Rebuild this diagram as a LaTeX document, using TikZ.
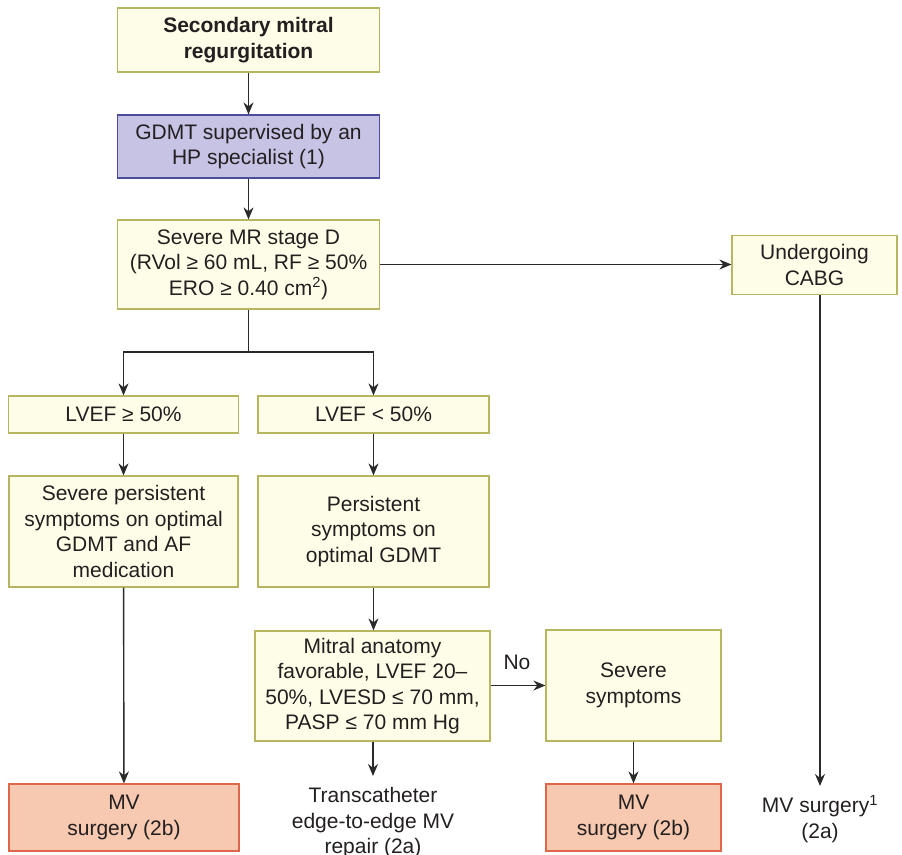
\documentclass[tikz,border=0pt]{standalone}
\usepackage{fontspec}
\setmainfont{Liberation Sans}
\usetikzlibrary{arrows.meta}
\definecolor{ylfill}{HTML}{FEFEE8}
\definecolor{yldraw}{HTML}{B8B560}
\definecolor{lvfill}{HTML}{C6C3E5}
\definecolor{lvdraw}{HTML}{4B4D9A}
\definecolor{sfill}{HTML}{F7C9B0}
\definecolor{sdraw}{HTML}{E0664A}
\definecolor{txt}{HTML}{231F20}
\definecolor{ln}{HTML}{2A2A2A}
\tikzset{
  base/.style={draw, line width=1.2pt, align=center, inner sep=0pt, text=txt,
    font=\fontsize{21}{25.5}\selectfont},
  ybox/.style={base, fill=ylfill, draw=yldraw},
  lbox/.style={base, fill=lvfill, draw=lvdraw},
  sbox/.style={base, fill=sfill, draw=sdraw},
  plain/.style={align=center, inner sep=0pt, text=txt, font=\fontsize{21}{25.5}\selectfont},
  arr/.style={draw=ln, line width=1.4pt, -{Stealth[length=12pt,width=10pt]}},
  ln/.style={draw=ln, line width=1.4pt}
}
\begin{document}
\begin{tikzpicture}[x=1pt,y=-1pt]
\useasboundingbox (0,0) rectangle (902,854);
\node[ybox, minimum width=262pt, minimum height=64pt, font=\fontsize{21}{25.5}\selectfont\bfseries] (top) at (248.5,40) {Secondary mitral\\regurgitation};
\node[lbox, minimum width=262pt, minimum height=63pt] (gdmt) at (248.5,146.5) {GDMT supervised by an\\HP specialist (1)};
\node[ybox, minimum width=262pt, minimum height=89pt] (smr) at (248.5,264.5) {Severe MR stage D\\(RVol ≥ 60 mL, RF ≥ 50\%\\ERO ≥ 0.40 cm\textsuperscript{2})};
\node[ybox, minimum width=165pt, minimum height=59pt] (cabg) at (814.5,265) {Undergoing\\CABG};
\node[ybox, minimum width=230pt, minimum height=37pt] (lh) at (123.5,414.5) {LVEF ≥ 50\%};
\node[ybox, minimum width=231pt, minimum height=37pt] (ll) at (373.5,414.5) {LVEF < 50\%};
\node[ybox, minimum width=229pt, minimum height=111pt] (sps) at (123.5,531.5) {Severe persistent\\symptoms on optimal\\GDMT and AF\\medication};
\node[ybox, minimum width=231pt, minimum height=111pt] (ps) at (373.5,531.5) {Persistent\\symptoms on\\optimal GDMT};
\node[ybox, minimum width=235pt, minimum height=110pt] (mit) at (372.5,686) {Mitral anatomy\\favorable, LVEF 20–\\50\%, LVESD ≤ 70 mm,\\PASP ≤ 70 mm Hg};
\node[ybox, minimum width=175pt, minimum height=111pt] (sev) at (633.5,685.5) {Severe\\symptoms};
\node[sbox, minimum width=230pt, minimum height=67pt] (mvl) at (124,817.5) {MV\\surgery (2b)};
\node[sbox, minimum width=175pt, minimum height=67pt] (mvr) at (633.5,817.5) {MV\\surgery (2b)};
\node[plain] (teer) at (373,823) {Transcatheter\\edge-to-edge MV\\repair (2a)};
\node[plain] (mvs) at (820,819) {MV surgery\textsuperscript{1}\\(2a)};
\node[plain, anchor=base] (no) at (517,669) {No};
\coordinate (split) at (248.5,352);
\coordinate (teerin) at (373,776);
\coordinate (mvsin) at (820,786);
\draw[arr] (top) -- (gdmt);
\draw[arr] (gdmt) -- (smr);
\draw[arr] (smr.east) -- (smr.east -| cabg.west);
\draw[arr] (cabg.south -| mvsin) -- (mvsin);
\draw[ln] (smr.south) -- (split);
\draw[arr] (split) -| (lh.north);
\draw[arr] (split) -| (ll.north);
\draw[arr] (lh) -- (sps);
\draw[arr] (sps) -- (mvl);
\draw[arr] (ll) -- (ps);
\draw[arr] (ps.south) -- (ps.south |- mit.north);
\draw[arr] (mit.south -| teerin) -- (teerin);
\draw[arr] (mit.east |- sev.west) -- (sev.west);
\draw[arr] (sev) -- (mvr);
\end{tikzpicture}
\end{document}
